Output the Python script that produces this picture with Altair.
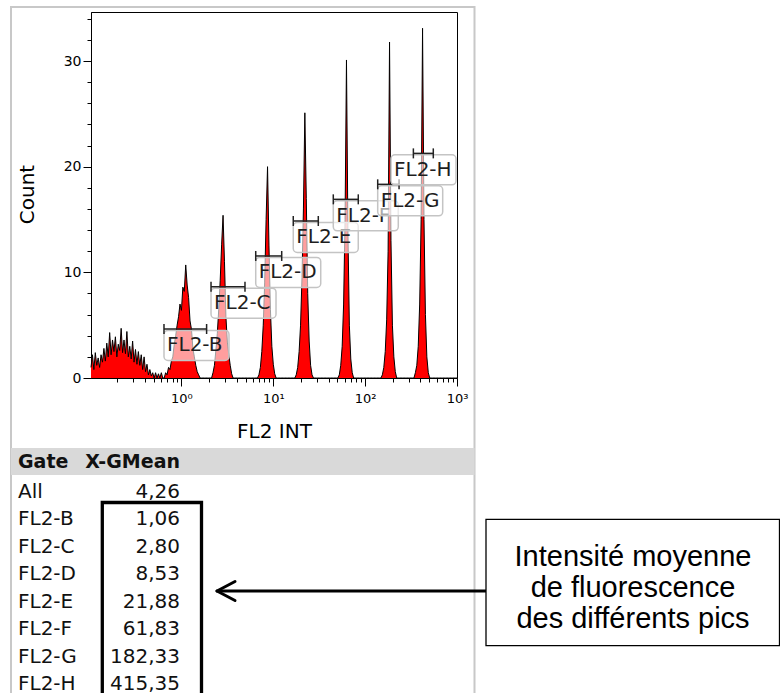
import math
import altair as alt
import numpy as np
import pandas as pd

# ---------------- data ----------------
CH_PER_DECADE = 64          # histogram channels per decade of FL2 INT
N_CH = 256                  # channels 1..256 -> 10^-1 .. 10^3

noise_start = 1
noise_counts = [1.0, 2.2, 0.8, 2.4, 1.2, 1.9, 1.0, 2.2, 1.5, 2.8, 1.6, 3.3, 2.0, 4.3,
                2.2, 3.6, 2.5, 3.9, 2.0, 3.2, 2.6, 4.7, 2.4, 3.6, 2.3, 4.4, 2.0, 3.0,
                1.8, 3.5, 1.5, 2.7, 1.3, 2.5, 1.2, 2.2, 0.8, 2.0, 0.6, 1.3, 0.3, 0.8,
                0.2, 0.5, 0.0, 0.5, 0.0, 0.4, 0.0, 0.5, 0.0]
peakB_start = 52
peakB_counts = [0.0, 0.5, 0.3, 1.0, 0.8, 1.6, 2.0, 3.2, 4.0, 5.0, 5.8, 7.0, 6.4, 8.6,
                8.2, 10.7, 8.8, 7.6, 5.4, 4.6, 2.8, 2.0, 1.2, 0.6, 0.3, 0.0]
peakC_start = 85
peakC_counts = [0.0, 0.5, 1.2, 2.6, 4.2, 6.5, 9.2, 12.6, 15.4, 11.0, 5.8, 3.4, 2.2, 1.2, 0.4, 0.0]
peakD_start = 117
peakD_counts = [0.0, 0.3, 1.0, 2.5, 5.0, 9.0, 15.0, 20.0, 12.5, 6.5, 3.0, 1.3, 0.4, 0.0]
peakE_start = 143
peakE_counts = [0.0, 0.3, 1.0, 2.5, 5.0, 9.5, 16.0, 25.1, 17.0, 8.0, 3.5, 1.2, 0.3, 0.0]
peakF_start = 173
peakF_counts = [0.0, 0.3, 1.2, 3.0, 7.0, 15.0, 30.1, 14.0, 5.0, 1.8, 0.5, 0.0]
peakG_start = 203
peakG_counts = [0.0, 0.3, 1.0, 2.5, 5.5, 12.0, 31.8, 13.0, 5.0, 2.0, 0.6, 0.0]
peakH_start = 226
peakH_counts = [0.0, 0.5, 1.2, 3.0, 7.0, 15.0, 33.1, 15.0, 6.0, 2.0, 0.5, 0.0]

gate_names = ["FL2-B", "FL2-C", "FL2-D", "FL2-E", "FL2-F", "FL2-G", "FL2-H"]
gate_lo = [0.646, 2.10, 6.44, 16.5, 45.0, 137.0, 335.0]
gate_hi = [1.88, 4.92, 12.35, 30.9, 84.2, 234.0, 552.0]
gate_level = [4.64, 8.64, 11.55, 14.86, 16.91, 18.33, 21.26]

table_gates = ["All"] + gate_names
table_gmean = [4.26, 1.06, 2.80, 8.53, 21.88, 61.83, 182.33, 415.35]

note_lines = ["Intensité moyenne", "de fluorescence", "des différents pics"]

# ---------------- build tables ----------------
counts = np.zeros(N_CH + 1)
for start, vals in [(noise_start, noise_counts), (peakB_start, peakB_counts),
                    (peakC_start, peakC_counts), (peakD_start, peakD_counts),
                    (peakE_start, peakE_counts), (peakF_start, peakF_counts),
                    (peakG_start, peakG_counts), (peakH_start, peakH_counts)]:
    counts[start:start + len(vals)] = vals
ch = np.arange(1, N_CH + 1)
hist = pd.DataFrame({"intensity": 10.0 ** (ch / CH_PER_DECADE - 1), "count": counts[1:]})

# ---------------- layout ----------------
PL, PT, W, H = 91, 12, 366, 366
TOTAL_W, TOTAL_H = 780, 693
XMIN, XMAX, YMAX = 10.0 ** (1 / CH_PER_DECADE - 1), 1000.0, 34.64
PX_DEC = W / math.log10(XMAX / XMIN)
PX_CNT = H / YMAX

BOX_W, BOX_H = 65, 30
gates = pd.DataFrame({"name": gate_names, "lo": gate_lo, "hi": gate_hi, "level": gate_level})
gates["box_l"] = np.minimum(gates["lo"], XMAX / 10 ** ((BOX_W + 1) / PX_DEC))
gates["box_r"] = gates["box_l"] * 10 ** (BOX_W / PX_DEC)
gates["box_t"] = gates["level"] - 1.5 / PX_CNT
gates["box_b"] = gates["box_t"] - BOX_H / PX_CNT
gates["cap_t"] = gates["level"] + 5 / PX_CNT
gates["cap_b"] = gates["level"] - 5 / PX_CNT

xscale = alt.Scale(type="log", domain=[XMIN, XMAX], nice=False)
yscale = alt.Scale(domain=[0, YMAX], nice=False)

FONT = "DejaVu Sans"
x_major = alt.Axis(values=[1, 10, 100, 1000], orient="bottom",
                   labelExpr="datum.value < 5 ? '10⁰' : datum.value < 50 ? '10¹' : datum.value < 500 ? '10²' : '10³'",
                   tickSize=8, labelPadding=6, labelFontSize=13, labelFlush=False, labelOverlap=False,
                   grid=False, title="FL2 INT", titleFontSize=20, titleY=43.5, titleFontWeight="normal")
x_minor = alt.Axis(values=[m * 10 ** e for e in (-1, 0, 1, 2) for m in range(2, 10)], orient="bottom",
                   labels=False, tickSize=4, domain=False, grid=False, title=None)
y_major = alt.Axis(values=[0, 10, 20, 30], orient="left", tickSize=8, labelPadding=2, labelFontSize=14,
                   grid=False, title="Count", titleFontSize=20, titleX=-53.5, titleY=182,
                   titleFontWeight="normal")
y_minor = alt.Axis(values=[v for v in range(2, 35, 2) if v % 10], orient="left", labels=False,
                   tickSize=4, domain=False, grid=False, title=None)

one = pd.DataFrame({"k": [0]})


def rx(v):
    return v - PL


def ry(v):
    return v - PT


layers = []
# outer grey frame and table header band
layers.append(alt.Chart(one).mark_rect(fillOpacity=0, stroke="#c8c8c8", strokeWidth=2).encode(
    x=alt.value(rx(11)), x2=alt.value(rx(474.5)), y=alt.value(ry(7)), y2=alt.value(ry(720))))
layers.append(alt.Chart(one).mark_rect(fill="#d9d9d9").encode(
    x=alt.value(rx(11)), x2=alt.value(rx(474.5)), y=alt.value(ry(448)), y2=alt.value(ry(475))))

# histogram
layers.append(alt.Chart(hist).mark_area(color="#ff0000", opacity=1, interpolate="linear",
                                        line={"color": "black", "strokeWidth": 1}).encode(
    x=alt.X("intensity:Q", scale=xscale, axis=x_major),
    y=alt.Y("count:Q", scale=yscale, axis=y_major)))
layers.append(alt.Chart(hist).mark_point(opacity=0).encode(
    x=alt.X("intensity:Q", scale=xscale, axis=x_minor),
    y=alt.Y("count:Q", scale=yscale, axis=y_minor)))

# gates
for g in gate_names:
    base = alt.Chart(gates).transform_filter(alt.datum.name == g)
    layers.append(base.mark_rect(fill="white", fillOpacity=0.62, stroke="#c4c4c4", strokeWidth=1.5,
                                 cornerRadius=4).encode(
        x=alt.X("box_l:Q", scale=xscale, axis=None), x2="box_r:Q",
        y=alt.Y("box_t:Q", scale=yscale, axis=None), y2="box_b:Q"))
    layers.append(base.mark_text(align="left", baseline="middle", dx=3, dy=16.5, fontSize=20,
                                 font=FONT, color="#1e1e1e").encode(
        x=alt.X("box_l:Q", scale=xscale, axis=None),
        y=alt.Y("level:Q", scale=yscale, axis=None), text="name:N"))
    layers.append(base.mark_rule(color="#222222", strokeWidth=1.5).encode(
        x=alt.X("lo:Q", scale=xscale, axis=None), x2="hi:Q",
        y=alt.Y("level:Q", scale=yscale, axis=None)))
    for edge in ("lo", "hi"):
        layers.append(base.mark_rule(color="#222222", strokeWidth=1.5).encode(
            x=alt.X(f"{edge}:Q", scale=xscale, axis=None),
            y=alt.Y("cap_t:Q", scale=yscale, axis=None), y2="cap_b:Q"))

# statistics table (multi-line text: first line is drawn at y)
ROW0, ROW_STEP = 492, 27.43
layers.append(alt.Chart(one).mark_text(align="left", baseline="middle", fontSize=19, font=FONT,
                                       fontWeight="bold", color="#111111").encode(
    x=alt.value(rx(18)), y=alt.value(ry(462)), text=alt.value("Gate")))
layers.append(alt.Chart(one).mark_text(align="right", baseline="middle", fontSize=19, font=FONT,
                                       fontWeight="bold", color="#111111").encode(
    x=alt.value(rx(180)), y=alt.value(ry(462)), text=alt.value("X-GMean")))
layers.append(alt.Chart(one).mark_text(align="left", baseline="middle", fontSize=20, font=FONT,
                                       lineHeight=ROW_STEP, color="#111111").encode(
    x=alt.value(rx(18)), y=alt.value(ry(ROW0)), text=alt.value(table_gates)))
layers.append(alt.Chart(one).mark_text(align="right", baseline="middle", fontSize=20, font=FONT,
                                       lineHeight=ROW_STEP, color="#111111").encode(
    x=alt.value(rx(180)), y=alt.value(ry(ROW0)),
    text=alt.value([f"{v:.2f}".replace(".", ",") for v in table_gmean])))

# black box around the values
layers.append(alt.Chart(one).mark_rect(fillOpacity=0, stroke="black", strokeWidth=3.3).encode(
    x=alt.value(rx(102.3)), x2=alt.value(rx(201.5)), y=alt.value(ry(502.5)), y2=alt.value(ry(730))))

# arrow
AY = 591
for (x1, y1, x2, y2) in [(219, AY, 486, AY), (217, AY, 235, AY - 9.5), (217, AY, 235, AY + 9.5)]:
    layers.append(alt.Chart(one).mark_rule(color="black", strokeWidth=3, strokeCap="round").encode(
        x=alt.value(rx(x1)), y=alt.value(ry(y1)), x2=alt.value(rx(x2)), y2=alt.value(ry(y2))))

# annotation box
layers.append(alt.Chart(one).mark_rect(fill="white", stroke="black", strokeWidth=1.3).encode(
    x=alt.value(rx(486)), x2=alt.value(rx(779.5)), y=alt.value(ry(519.3)), y2=alt.value(ry(645.7))))
layers.append(alt.Chart(one).mark_text(align="center", baseline="middle", fontSize=29, lineHeight=31,
                                       font="Liberation Sans", color="black").encode(
    x=alt.value(rx(633)), y=alt.value(ry(557.3)), text=alt.value(note_lines)))

chart = alt.layer(*layers).resolve_scale(x="shared", y="shared").resolve_axis(
    x="independent", y="independent"
).properties(
    width=W, height=H,
    padding={"left": PL, "top": PT, "right": TOTAL_W - PL - W, "bottom": TOTAL_H - PT - H},
    autosize=alt.AutoSizeParams(type="none"),
    background="white",
).configure_view(stroke="black", strokeWidth=1).configure_axis(
    labelFont=FONT, titleFont=FONT, labelColor="black", titleColor="black",
    tickColor="black", domainColor="black", tickWidth=1, domainWidth=1,
)

chart.save("out.html", embed_options={"renderer": "svg", "actions": False})
